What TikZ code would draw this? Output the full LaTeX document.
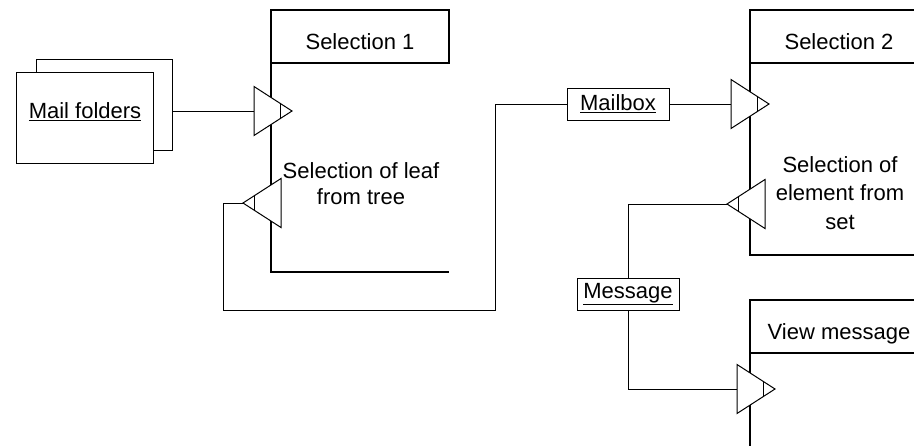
\documentclass[tikz,border=0pt]{standalone}
\usepackage{fontspec}
\setmainfont{Liberation Sans}
\begin{document}
\tikzset{
  frame/.style={line width=2pt},
  wire/.style={line width=0.9pt},
  titlebox/.style={draw, frame, minimum width=178pt, minimum height=53pt,
    inner sep=0pt, outer sep=0pt, text height=26pt, text depth=0pt},
  databox/.style={draw, line width=1pt, fill=white, minimum width=102pt,
    minimum height=32pt, inner sep=0pt, outer sep=0pt},
  folder/.style={draw, line width=1pt, fill=white, minimum width=137pt,
    minimum height=91pt, outer sep=0pt},
  pics/port/.style={code={
    \draw[line width=1pt, fill=white] (0,-24.5) -- (38,0) -- (0,24.5) -- cycle;
    \draw[line width=1pt] (26.5,-7.4) -- (26.5,7.4);
    \coordinate (-base) at (0,0);
    \coordinate (-tip) at (38,0);
  }},
}
\begin{tikzpicture}[x=1pt, y=-1pt, font=\fontsize{22pt}{26pt}\selectfont]
\clip (0,0) rectangle (914,445);

% Mail folders (stacked sheets)
\node[folder, minimum width=136pt] (mfb) at (104,104.5) {};
\node[folder] (mf) at (84.5,117.5) {};
\node (mftxt) at (85,112) {\underline{Mail folders}};

% Selection 1
\node[titlebox] (s1) at (360,36.5) {Selection 1};
\draw[frame] (s1.south west) -- (271,272) -- (449,272);
\node[align=center, inner sep=0pt] (s1txt) at (361,184) {Selection of leaf\\from tree};

% Selection 2
\node[titlebox] (s2) at (839,36.5) {Selection 2};
\draw[frame] (s2.south west) -- (750,255) -- (930,255);
\node[align=center, inner sep=0pt, font=\fontsize{22pt}{28.5pt}\selectfont]
  (s2txt) at (840,193) {Selection of\\element from\\set};

% View message
\node[titlebox] (vm) at (839,326) {View message};
\draw[frame] (vm.south west) -- (750,450);

% Data items
\node[databox] (mb) at (618,104) {\underline{Mailbox}};
\node[databox] (msg) at (628,294) {\underline{Message}};

% Ports
\pic (in1) at (254,111) {port};
\pic[xscale=-1] (out1) at (281,203) {port};
\pic (in2) at (731,104) {port};
\pic[xscale=-1] (out2) at (765,204) {port};
\pic (in3) at (737,389) {port};

% Flows
\draw[wire] (mfb.east |- in1-base) -- (in1-base);
\draw[wire] (out1-tip) -- ++(-20,0) |- (495,310) |- (mb.west);
\draw[wire] (mb.east) -- (in2-base);
\draw[wire] (out2-tip) -| (msg.north);
\draw[wire] (msg.south) |- (in3-base);
\end{tikzpicture}
\end{document}
